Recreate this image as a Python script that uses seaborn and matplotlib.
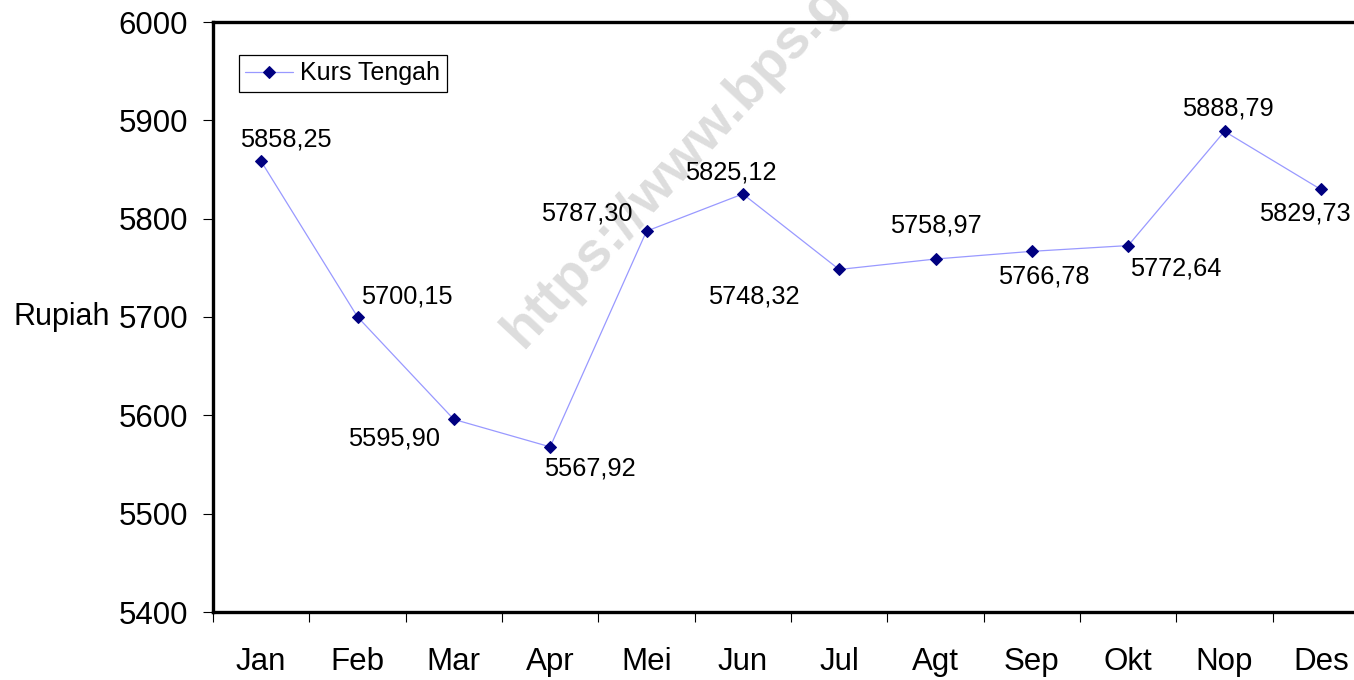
import matplotlib.pyplot as plt
import numpy as np
import pandas as pd
import seaborn as sns

months = ['Jan', 'Feb', 'Mar', 'Apr', 'Mei', 'Jun', 'Jul', 'Agt', 'Sep', 'Okt', 'Nop', 'Des']
kurs_tengah = [5858.25, 5700.15, 5595.90, 5567.92, 5787.30, 5825.12,
               5748.32, 5758.97, 5766.78, 5772.64, 5888.79, 5829.73]
y_ticks = [5400, 5500, 5600, 5700, 5800, 5900, 6000]

# where each value label sits relative to its point (pixels)
label_offsets = [(25, 22), (49, 20), (-60, -19), (40, -22), (-60, 18), (-12, 21),
                 (-85, -27), (0, 34), (12, -25), (48, -23), (3, 23), (-16, -24)]

sns.set_style('white')
plt.rcParams['font.family'] = ['Liberation Sans', 'DejaVu Sans']
plt.rcParams['text.color'] = 'black'
plt.rcParams['axes.labelcolor'] = 'black'
plt.rcParams['xtick.color'] = 'black'
plt.rcParams['ytick.color'] = 'black'

fig = plt.figure(figsize=(13.54, 6.8), dpi=100)
ax = fig.add_axes([213 / 1354, 68 / 680, 1156 / 1354, 590 / 680])
ax.set_facecolor('none')

df = pd.DataFrame({'bulan': months, 'kurs': kurs_tengah})
sns.lineplot(data=df, x='bulan', y='kurs', sort=False, ax=ax,
             color='#9999ff', linewidth=0.9, marker='D', markersize=6,
             markerfacecolor='#000080', markeredgecolor='#000080',
             label='Kurs Tengah', zorder=3)

# value labels with decimal comma
for i, (v, off) in enumerate(zip(kurs_tengah, label_offsets)):
    txt = f'{v:.2f}'.replace('.', ',')
    ax.annotate(txt, (i, v), xytext=off, textcoords='offset pixels',
                ha='center', va='center', fontsize=18.3, color='black')

# faint watermark
ax.text(522 / 1354, 1 - 350 / 680, 'https://www.bps.go.id', transform=fig.transFigure,
        rotation=47, rotation_mode='anchor', ha='left', va='baseline',
        fontsize=40, fontweight='bold', color='#dddddd', zorder=0.5, clip_on=False)

ax.set_xlim(-0.5, len(months) - 0.5)
ax.set_ylim(5400, 6000)
ax.set_yticks(y_ticks)
ax.set_xticks(range(len(months)))
ax.set_xticklabels(months)
ax.set_xticks(np.arange(-0.5, len(months), 1), minor=True)
ax.tick_params(axis='x', which='major', length=0, pad=25, labelsize=22.5)
ax.tick_params(axis='x', which='minor', length=7, width=0.8, direction='out',
               bottom=True, color='black')
ax.tick_params(axis='y', which='major', length=7, width=0.8, direction='out',
               left=True, pad=11, labelsize=22.5, color='black')

ax.set_xlabel('')
ax.set_ylabel('Rupiah', rotation=0, fontsize=22, ha='right', va='center')
ax.yaxis.set_label_coords(-0.089, 0.5)

for side in ['left', 'bottom', 'top', 'right']:
    ax.spines[side].set_visible(True)
    ax.spines[side].set_color('black')
    ax.spines[side].set_linewidth(2.4)

leg = ax.legend(loc='upper left', bbox_to_anchor=(0.0225, 0.944), borderaxespad=0,
                fontsize=18, frameon=True, fancybox=False, framealpha=1,
                edgecolor='black', handlelength=1.9, handletextpad=0.3,
                borderpad=0.25)
leg.get_frame().set_linewidth(0.9)
for t in leg.get_texts():
    t.set_color('black')

plt.savefig('out.png', dpi=100)
